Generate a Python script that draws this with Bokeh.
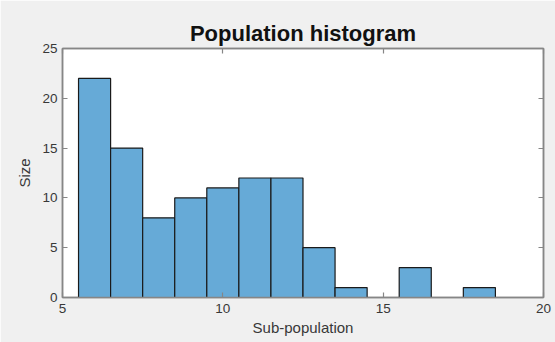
from bokeh.plotting import figure
from bokeh.models import LinearAxis, Range1d, FixedTicker
from bokeh.embed import file_html
from bokeh.resources import INLINE

# data
bin_edges = [5.5, 6.5, 7.5, 8.5, 9.5, 10.5, 11.5, 12.5, 13.5, 14.5, 15.5, 16.5, 17.5, 18.5]
counts = [22, 15, 8, 10, 11, 12, 12, 5, 1, 0, 3, 0, 1]
x_ticks = [5, 10, 15, 20]
y_ticks = [0, 5, 10, 15, 20, 25]

AX = "#868686"
TXT = "#383838"
FONT = "Liberation Sans"

p = figure(width=555, height=342, output_backend="svg", toolbar_location=None,
           x_range=Range1d(5, 20), y_range=Range1d(0, 25),
           title="Population histogram",
           min_border_left=62, min_border_right=12, min_border_top=48, min_border_bottom=45)

p.background_fill_color = "white"
p.border_fill_color = "#f0f0f0"
p.outline_line_color = AX
p.outline_line_width = 1.5
p.grid.visible = False

p.title.align = "center"
p.title.text_font = FONT
p.title.text_font_size = "22px"
p.title.text_font_style = "bold"
p.title.text_color = "#111111"
p.title.standoff = 5

p.quad(left=bin_edges[:-1], right=bin_edges[1:], bottom=0, top=counts,
       fill_color="#66aad7", line_color="#1a1a1a", line_width=1.2)

def style_axis(ax, show_labels=True):
    ax.axis_line_color = AX
    ax.axis_line_width = 1.5
    ax.major_tick_line_color = AX
    ax.major_tick_line_width = 1.2
    ax.major_tick_in = 5
    ax.major_tick_out = 0
    ax.minor_tick_line_color = None
    ax.major_label_text_font = FONT
    if show_labels:
        ax.major_label_text_font_size = "13.5px"
        ax.major_label_text_color = TXT
    else:
        ax.major_label_text_font_size = "1px"
        ax.major_label_text_color = None
    ax.axis_label_text_font = FONT
    ax.axis_label_text_font_size = "15px"
    ax.axis_label_text_font_style = "normal"
    ax.axis_label_text_color = TXT

xa = p.xaxis[0]
xa.ticker = FixedTicker(ticks=x_ticks)
xa.axis_label = "Sub-population"
style_axis(xa)
xa.major_label_standoff = 6
xa.axis_label_standoff = 3

ya = p.yaxis[0]
ya.ticker = FixedTicker(ticks=y_ticks)
ya.axis_label = "Size"
style_axis(ya)
ya.major_label_standoff = 5
ya.axis_label_standoff = 6

top = LinearAxis(ticker=FixedTicker(ticks=x_ticks))
style_axis(top, show_labels=False)
top.major_label_standoff = 0
p.add_layout(top, "above")

right = LinearAxis(ticker=FixedTicker(ticks=y_ticks))
style_axis(right, show_labels=False)
right.major_label_standoff = 0
p.add_layout(right, "right")

open("out.html", "w").write(file_html(p, INLINE))
